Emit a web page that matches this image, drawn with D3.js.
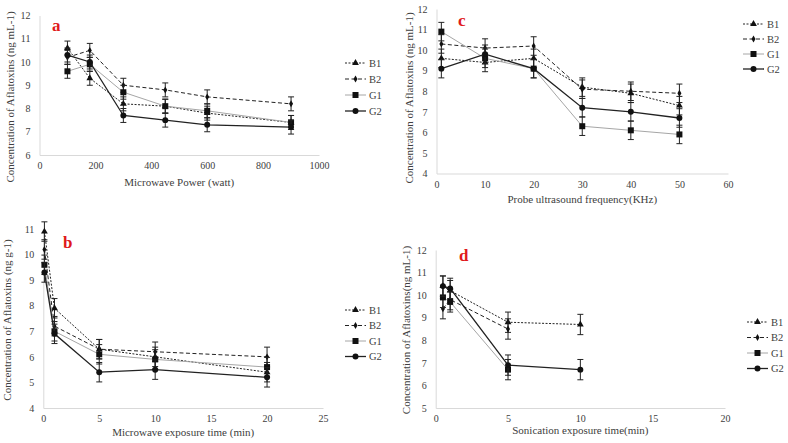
<!DOCTYPE html>
<html>
<head>
<meta charset="utf-8">
<script src="https://cdn.jsdelivr.net/npm/d3@7"></script>
<style>
  body { margin: 0; background: #fff; }
  text { font-family: 'Liberation Serif', 'Times New Roman', serif; fill: #404040; }
</style>
</head>
<body>
<div id="viz"></div>
<script>
const width = 788;
const height = 443;
const seriesNames = ['B1', 'B2', 'G1', 'G2'];

// panel a - microwave power
const powerX = [100, 180, 300, 450, 600, 900];
const powerB1 = [10.6, 9.3, 8.2, 8.1, 7.8, 7.4];
const powerB2 = [10.2, 10.5, 9.0, 8.8, 8.5, 8.2];
const powerG1 = [9.6, 9.9, 8.7, 8.1, 7.9, 7.4];
const powerG2 = [10.3, 10.0, 7.7, 7.5, 7.3, 7.2];
const powerErr = 0.3;

// panel b - microwave exposure time
const timeX = [0.1, 1, 5, 10, 20];
const timeB1 = [10.9, 7.9, 6.3, 6.0, 5.4];
const timeB2 = [10.2, 7.2, 6.3, 6.2, 6.0];
const timeG1 = [9.6, 7.0, 6.1, 5.9, 5.6];
const timeG2 = [9.3, 6.9, 5.4, 5.5, 5.2];
const timeErr = 0.38;

// panel c - probe ultrasound frequency
const freqX = [1, 10, 20, 30, 40, 50];
const freqB1 = [9.6, 9.4, 9.6, 8.2, 7.9, 7.3];
const freqB2 = [10.3, 10.1, 10.2, 8.1, 8.0, 7.9];
const freqG1 = [10.9, 9.6, 9.1, 6.3, 6.1, 5.9];
const freqG2 = [9.1, 9.8, 9.1, 7.2, 7.0, 6.7];
const freqErr = 0.45;

// panel d - sonication time
const sonX = [0.5, 1, 5, 10];
const sonB1 = [10.4, 10.2, 8.8, 8.7];
const sonB2 = [9.4, 9.8, 8.5];
const sonG1 = [9.9, 9.7, 6.7];
const sonG2 = [10.4, 10.3, 6.9, 6.7];
const sonErr = 0.45;

const styles = {
  B1: {stroke: '#222', dash: '2,1.5', width: 1, marker: d3.symbolTriangle, size: 20},
  B2: {stroke: '#222', dash: '4,2.5', width: 1, marker: d3.symbolDiamond, size: 14},
  G1: {stroke: '#a6a6a6', dash: null, width: 1, marker: d3.symbolSquare, size: 36},
  G2: {stroke: '#222', dash: null, width: 1.3, marker: d3.symbolCircle, size: 28}
};

const svg = d3.select('#viz')
  .append('svg')
    .attr('width', width)
    .attr('height', height)
    .style('background', '#fff');

const drawPanel = (p) => {
  const x = d3.scaleLinear().domain(p.xDomain).range(p.xRange);
  const y = d3.scaleLinear().domain(p.yDomain).range(p.yRange);
  const g = svg.append('g');

  // axes
  const xAxis = g.append('g')
    .attr('transform', `translate(0, ${p.yRange[0]})`)
    .call(d3.axisBottom(x).tickValues(p.xTicks).tickFormat(d3.format('d')).tickSize(0).tickPadding(7));
  const yAxis = g.append('g')
    .attr('transform', `translate(${p.xRange[0]}, 0)`)
    .call(d3.axisLeft(y).ticks(p.yDomain[1] - p.yDomain[0]).tickSize(0).tickPadding(9));
  [xAxis, yAxis].forEach(a => {
    a.select('.domain').attr('stroke', '#d9d9d9');
    a.selectAll('text').style('font-size', '10px').style('font-family', 'Liberation Serif').attr('fill', '#404040');
  });

  // titles
  g.append('text')
    .attr('x', (p.xRange[0] + p.xRange[1]) / 2)
    .attr('y', p.xTitleY)
    .attr('text-anchor', 'middle')
    .style('font-size', '11px')
    .text(p.xTitle);
  g.append('text')
    .attr('transform', `translate(${p.yTitleX}, ${p.yTitleY}) rotate(-90)`)
    .attr('text-anchor', 'middle')
    .style('font-size', '11px')
    .text(p.yTitle);
  g.append('text')
    .attr('x', p.letterPos[0])
    .attr('y', p.letterPos[1])
    .style('font-size', '17px')
    .style('font-weight', 'bold')
    .style('fill', '#e0191b')
    .text(p.letter);

  const line = d3.line().x(d => x(d[0])).y(d => y(d[1]));

  seriesNames.forEach((name, i) => {
    const st = styles[name];
    const pts = p.series[i].map((v, j) => [p.xs[j], v]);
    g.append('path')
      .attr('d', line(pts))
      .attr('fill', 'none')
      .attr('stroke', st.stroke)
      .attr('stroke-width', st.width)
      .attr('stroke-dasharray', st.dash);
    // error bars
    const eb = g.append('g').attr('stroke', '#222').attr('stroke-width', 1);
    pts.forEach(d => {
      const cx = x(d[0]);
      eb.append('line').attr('x1', cx).attr('x2', cx).attr('y1', y(d[1] - p.err)).attr('y2', y(d[1] + p.err));
      eb.append('line').attr('x1', cx - 3).attr('x2', cx + 3).attr('y1', y(d[1] - p.err)).attr('y2', y(d[1] - p.err));
      eb.append('line').attr('x1', cx - 3).attr('x2', cx + 3).attr('y1', y(d[1] + p.err)).attr('y2', y(d[1] + p.err));
    });
    g.selectAll(null).data(pts).join('path')
      .attr('transform', d => `translate(${x(d[0])}, ${y(d[1])})`)
      .attr('d', d3.symbol().type(st.marker).size(st.size))
      .attr('fill', '#111');

    // legend
    const ly = p.legendY + i * p.legendStep;
    const lx = p.legendX;
    g.append('line')
      .attr('x1', lx).attr('x2', lx + 21)
      .attr('y1', ly).attr('y2', ly)
      .attr('stroke', st.stroke)
      .attr('stroke-width', st.width)
      .attr('stroke-dasharray', st.dash);
    g.append('path')
      .attr('transform', `translate(${lx + 10.5}, ${ly})`)
      .attr('d', d3.symbol().type(st.marker).size(st.size))
      .attr('fill', '#111');
    g.append('text')
      .attr('x', lx + 24)
      .attr('y', ly + 3.5)
      .style('font-size', '10.5px')
      .text(name);
  });
};

drawPanel({
  letter: 'a', letterPos: [52, 31],
  xs: powerX, series: [powerB1, powerB2, powerG1, powerG2], err: powerErr,
  xDomain: [0, 1000], xRange: [39.5, 319], xTicks: [0, 200, 400, 600, 800, 1000],
  yDomain: [6, 12], yRange: [155, 15.5],
  xTitle: 'Microwave Power (watt)', xTitleY: 186,
  yTitle: 'Concentration of Aflatoxins (ng mL-1)', yTitleX: 14, yTitleY: 97,
  legendX: 345, legendY: 63, legendStep: 16
});

drawPanel({
  letter: 'c', letterPos: [458, 26],
  xs: freqX, series: [freqB1, freqB2, freqG1, freqG2], err: freqErr,
  xDomain: [0, 60], xRange: [436.5, 728], xTicks: [0, 10, 20, 30, 40, 50, 60],
  yDomain: [4, 12], yRange: [173.5, 9],
  xTitle: 'Probe ultrasound frequency(KHz)', xTitleY: 203,
  yTitle: 'Concentration of Aflatoxins (ng mL-1)', yTitleX: 413, yTitleY: 98,
  legendX: 743, legendY: 24, legendStep: 15
});

drawPanel({
  letter: 'b', letterPos: [63, 248],
  xs: timeX, series: [timeB1, timeB2, timeG1, timeG2], err: timeErr,
  xDomain: [0, 25], xRange: [43.3, 323], xTicks: [0, 5, 10, 15, 20, 25],
  yDomain: [4, 11], yRange: [408, 229],
  xTitle: 'Microwave exposure time (min)', xTitleY: 436,
  yTitle: 'Concentration of Aflatoxins  (ng g-1)', yTitleX: 11, yTitleY: 320,
  legendX: 345, legendY: 310, legendStep: 15.5
});

drawPanel({
  letter: 'd', letterPos: [459, 261],
  xs: sonX, series: [sonB1, sonB2, sonG1, sonG2], err: sonErr,
  xDomain: [0, 20], xRange: [435.7, 725], xTicks: [0, 5, 10, 15, 20],
  yDomain: [5, 12], yRange: [408, 250],
  xTitle: 'Sonication exposure time(min)', xTitleY: 434,
  yTitle: 'Concentration of Aflatoxins(ng mL-1)', yTitleX: 410, yTitleY: 330,
  legendX: 747, legendY: 322, legendStep: 15.5
});
</script>
</body>
</html>
